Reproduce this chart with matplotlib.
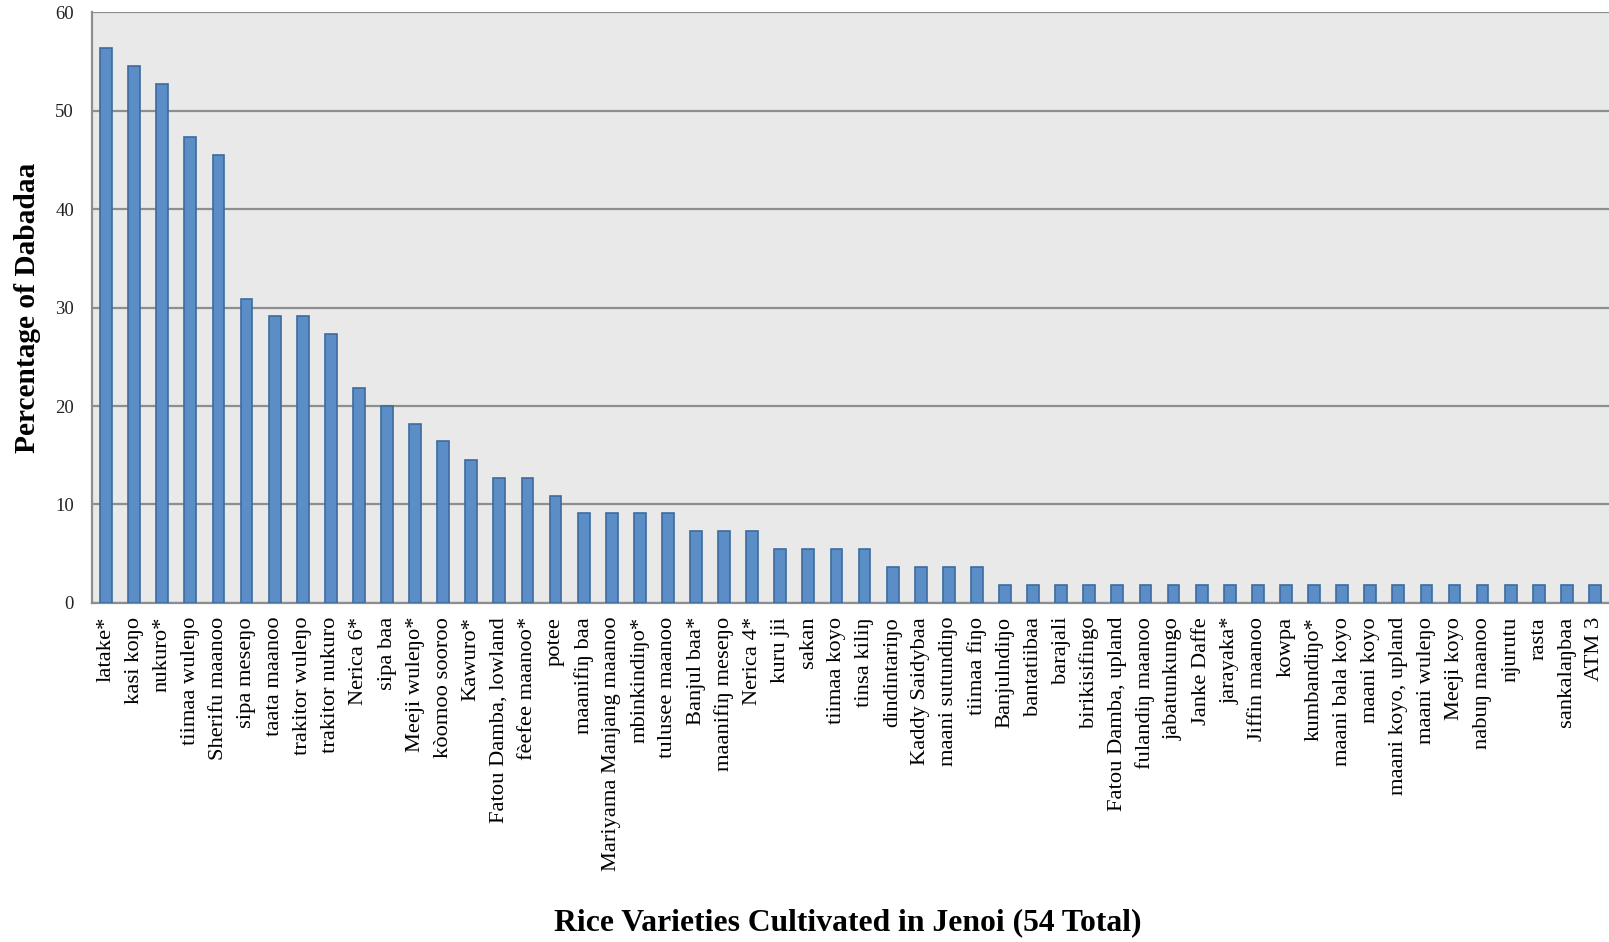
import numpy as np
import matplotlib
matplotlib.use("Agg")
import matplotlib.pyplot as plt

plt.rcParams['font.family'] = ['Liberation Serif', 'DejaVu Serif']

# rice varieties and share of dabadaa growing each (%)
varieties = [
    "latake*", "kasi koŋo", "nukuro*", "tiimaa wuleŋo", "Sherifu maanoo",
    "sipa meseŋo", "taata maanoo", "trakitor wuleŋo", "trakitor nukuro",
    "Nerica 6*", "sipa baa", "Meeji wuleŋo*", "kòomoo sooroo", "Kawuro*",
    "Fatou Damba, lowland", "fèefee maanoo*", "potee", "maanifiŋ baa",
    "Mariyama Manjang maanoo", "mbinkindiŋo*", "tulusee maanoo",
    "Banjul baa*", "maanifiŋ meseŋo", "Nerica 4*", "kuru jii", "sakan",
    "tiimaa koyo", "tinsa kiliŋ", "dindintariŋo", "Kaddy Saidybaa",
    "maani sutundiŋo", "tiimaa fiŋo", "Banjulndiŋo", "bantatiibaa",
    "barajali", "birikisifingo", "Fatou Damba, upland", "fulandiŋ maanoo",
    "jabatunkungo", "Janke Daffe", "jarayaka*", "Jiffin maanoo", "kowpa",
    "kumbandiŋo*", "maani bala koyo", "maani koyo", "maani koyo, upland",
    "maani wuleŋo", "Meeji koyo", "nabuŋ maanoo", "njurutu", "rasta",
    "sankalaŋbaa", "ATM 3",
]
percent = [
    56.4, 54.5, 52.7, 47.3, 45.5,
    30.9, 29.1, 29.1, 27.3,
    21.8, 20.0, 18.2, 16.4, 14.5,
    12.7, 12.7, 10.9, 9.1,
    9.1, 9.1, 9.1,
    7.3, 7.3, 7.3, 5.5, 5.5,
    5.5, 5.5, 3.6, 3.6,
    3.6, 3.6, 1.8, 1.8,
    1.8, 1.8, 1.8, 1.8,
    1.8, 1.8, 1.8, 1.8, 1.8,
    1.8, 1.8, 1.8, 1.8,
    1.8, 1.8, 1.8, 1.8, 1.8,
    1.8, 1.8,
]
yticks = [0, 10, 20, 30, 40, 50, 60]

fig = plt.figure(figsize=(16.09, 9.42), dpi=100)
ax = fig.add_axes([0.0572, 0.36, 0.9428, 0.627])
ax.set_facecolor('#e9e9e9')

x = np.arange(len(varieties))
ax.bar(x, percent, width=0.42, color='#5b8ec7', edgecolor='#3d6b9e',
       linewidth=1.2, zorder=3)

ax.set_xlim(-0.5, len(varieties) - 0.5)
ax.set_ylim(0, 60)
ax.set_yticks(yticks)
ax.yaxis.grid(True, color='#8e8e8e', linewidth=1.6, zorder=1)
ax.set_xticks(x)
ax.set_xticklabels(varieties, rotation=90, fontsize=16.2)
ax.tick_params(axis='x', length=0, pad=10)
ax.tick_params(axis='y', length=0, pad=13, labelsize=13.5, labelcolor='#222222')

for side in ['top', 'right']:
    ax.spines[side].set_visible(False)
for side in ['left', 'bottom']:
    ax.spines[side].set_color('#8e8e8e')
    ax.spines[side].set_linewidth(1.6)

fig.text(0.0168, 0.6735, 'Percentage of Dabadaa', rotation=90,
         fontsize=21.2, fontweight='bold', ha='center', va='center')
fig.text(0.527, 0.02, 'Rice Varieties Cultivated in Jenoi (54 Total)',
         fontsize=22.8, fontweight='bold', ha='center', va='center')

fig.savefig('out.png', dpi=100)
